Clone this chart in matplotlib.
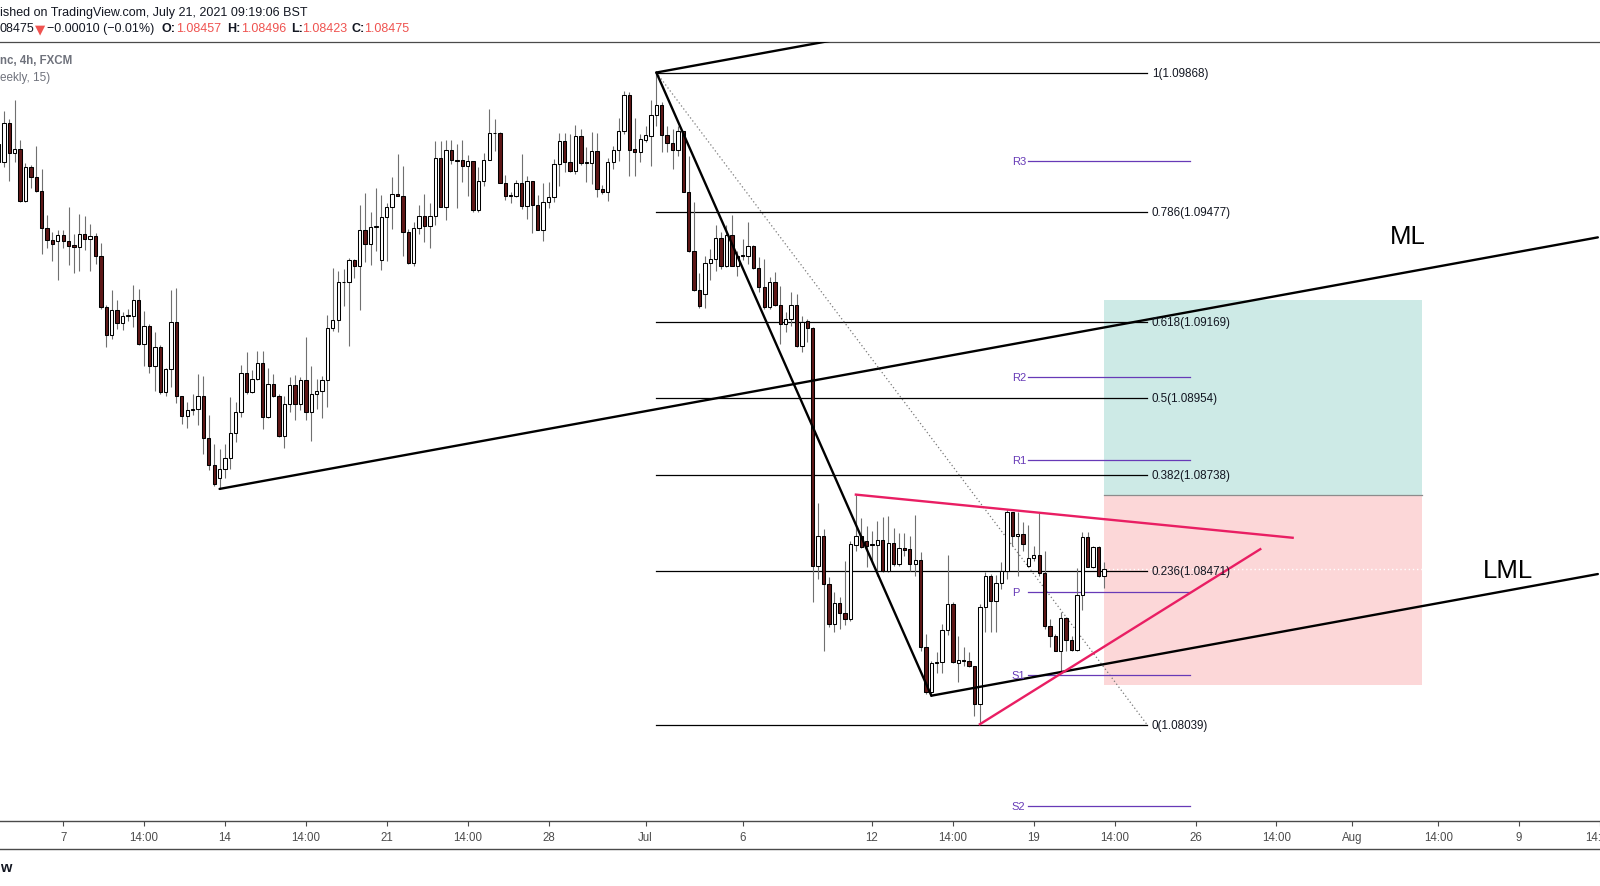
import numpy as np
import matplotlib.pyplot as plt
from matplotlib.lines import Line2D
from matplotlib.patches import Rectangle

# EURCHF-like 4h candles; bar 0 = first bar of Mon 7 Jun
first_bar = -12

opens = [
    1.09668, 1.09616, 1.09726, 1.09641, 1.09653, 1.09509, 1.09602, 1.09574, 1.09535, 1.09431,
    1.09398, 1.09395, 1.09413, 1.09395, 1.09383, 1.09378, 1.09415, 1.09400, 1.09409, 1.09353,
    1.09210, 1.09133, 1.09202, 1.09165, 1.09185, 1.09186, 1.09230, 1.09107, 1.09156, 1.09046,
    1.09098, 1.08973, 1.09037, 1.09168, 1.08960, 1.08904, 1.08922, 1.08923, 1.08960, 1.08842,
    1.08767, 1.08732, 1.08756, 1.08786, 1.08858, 1.08915, 1.09024, 1.08971, 1.09008, 1.09052,
    1.08901, 1.08994, 1.08961, 1.08848, 1.08938, 1.08992, 1.08938, 1.09005, 1.08915, 1.08965,
    1.08974, 1.09005, 1.09151, 1.09173, 1.09279, 1.09279, 1.09341, 1.09325, 1.09425, 1.09386,
    1.09435, 1.09343, 1.09462, 1.09490, 1.09526, 1.09521, 1.09420, 1.09333, 1.09431, 1.09465,
    1.09437, 1.09465, 1.09627, 1.09490, 1.09650, 1.09623, 1.09622, 1.09605, 1.09619, 1.09481,
    1.09563, 1.09622, 1.09697, 1.09698, 1.09557, 1.09522, 1.09523, 1.09557, 1.09493, 1.09563,
    1.09497, 1.09427, 1.09504, 1.09518, 1.09612, 1.09675, 1.09616, 1.09593, 1.09689, 1.09614,
    1.09615, 1.09647, 1.09541, 1.09532, 1.09616, 1.09651, 1.09703, 1.09805, 1.09654, 1.09644,
    1.09680, 1.09691, 1.09749, 1.09777, 1.09694, 1.09670, 1.09652, 1.09703, 1.09534, 1.09367,
    1.09259, 1.09247, 1.09333, 1.09344, 1.09403, 1.09326, 1.09412, 1.09326, 1.09355, 1.09353,
    1.09381, 1.09320, 1.09266, 1.09210, 1.09280, 1.09217, 1.09163, 1.09177, 1.09217, 1.09102,
    1.09170, 1.09150, 1.08485, 1.08567, 1.08433, 1.08322, 1.08381, 1.08352, 1.08334, 1.08544,
    1.08567, 1.08553, 1.08545, 1.08544, 1.08557, 1.08471, 1.08548, 1.08488, 1.08535, 1.08532,
    1.08488, 1.08501, 1.08256, 1.08129, 1.08213, 1.08214, 1.08304, 1.08376, 1.08211, 1.08219,
    1.08216, 1.08202, 1.08097, 1.08368, 1.08457, 1.08387, 1.08435, 1.08471, 1.08634, 1.08567,
    1.08573, 1.08485, 1.08505, 1.08514, 1.08463, 1.08315, 1.08287, 1.08246, 1.08337, 1.08277,
    1.08249, 1.08402, 1.08564, 1.08482, 1.08536, 1.08457,
]
closes = [
    1.09616, 1.09726, 1.09641, 1.09653, 1.09509, 1.09602, 1.09574, 1.09535, 1.09431, 1.09398,
    1.09386, 1.09413, 1.09395, 1.09381, 1.09378, 1.09415, 1.09400, 1.09409, 1.09353, 1.09210,
    1.09133, 1.09202, 1.09165, 1.09184, 1.09187, 1.09230, 1.09107, 1.09156, 1.09046, 1.09098,
    1.08973, 1.09037, 1.09168, 1.08960, 1.08904, 1.08922, 1.08923, 1.08960, 1.08842, 1.08766,
    1.08713, 1.08756, 1.08786, 1.08858, 1.08915, 1.09024, 1.08971, 1.09008, 1.09052, 1.08901,
    1.08994, 1.08962, 1.08848, 1.08938, 1.08992, 1.08938, 1.09005, 1.08915, 1.08965, 1.08974,
    1.09005, 1.09151, 1.09173, 1.09279, 1.09281, 1.09341, 1.09325, 1.09425, 1.09386, 1.09434,
    1.09437, 1.09462, 1.09490, 1.09526, 1.09521, 1.09420, 1.09333, 1.09431, 1.09465, 1.09437,
    1.09465, 1.09627, 1.09490, 1.09650, 1.09622, 1.09621, 1.09605, 1.09619, 1.09481, 1.09563,
    1.09622, 1.09698, 1.09699, 1.09557, 1.09521, 1.09524, 1.09557, 1.09493, 1.09563, 1.09497,
    1.09427, 1.09504, 1.09518, 1.09612, 1.09675, 1.09616, 1.09593, 1.09689, 1.09613, 1.09616,
    1.09647, 1.09540, 1.09532, 1.09616, 1.09651, 1.09703, 1.09805, 1.09652, 1.09644, 1.09682,
    1.09693, 1.09749, 1.09777, 1.09694, 1.09670, 1.09652, 1.09703, 1.09534, 1.09367, 1.09259,
    1.09214, 1.09333, 1.09344, 1.09403, 1.09326, 1.09411, 1.09326, 1.09354, 1.09352, 1.09381,
    1.09320, 1.09266, 1.09210, 1.09280, 1.09217, 1.09163, 1.09177, 1.09217, 1.09102, 1.09167,
    1.09150, 1.08485, 1.08567, 1.08433, 1.08322, 1.08381, 1.08352, 1.08334, 1.08546, 1.08567,
    1.08537, 1.08541, 1.08543, 1.08557, 1.08471, 1.08548, 1.08488, 1.08535, 1.08530, 1.08488,
    1.08501, 1.08256, 1.08129, 1.08213, 1.08215, 1.08304, 1.08376, 1.08214, 1.08220, 1.08216,
    1.08202, 1.08097, 1.08368, 1.08457, 1.08387, 1.08435, 1.08471, 1.08634, 1.08567, 1.08573,
    1.08545, 1.08505, 1.08514, 1.08463, 1.08315, 1.08287, 1.08246, 1.08337, 1.08277, 1.08249,
    1.08402, 1.08564, 1.08482, 1.08536, 1.08457, 1.08475,
]
highs = [
    1.09682, 1.09759, 1.09738, 1.09791, 1.09679, 1.09614, 1.09609, 1.09663, 1.09598, 1.09469,
    1.09420, 1.09425, 1.09425, 1.09492, 1.09415, 1.09471, 1.09466, 1.09443, 1.09418, 1.09391,
    1.09216, 1.09258, 1.09230, 1.09195, 1.09205, 1.09272, 1.09261, 1.09200, 1.09163, 1.09140,
    1.09104, 1.09039, 1.09259, 1.09264, 1.08962, 1.08943, 1.08965, 1.09021, 1.09018, 1.08906,
    1.08826, 1.08812, 1.08826, 1.08957, 1.08945, 1.09048, 1.09083, 1.09034, 1.09088, 1.09088,
    1.09040, 1.09022, 1.08966, 1.08962, 1.09013, 1.09020, 1.09013, 1.09127, 1.09046, 1.09008,
    1.09018, 1.09188, 1.09320, 1.09310, 1.09317, 1.09348, 1.09345, 1.09495, 1.09530, 1.09476,
    1.09544, 1.09525, 1.09502, 1.09575, 1.09639, 1.09605, 1.09429, 1.09448, 1.09496, 1.09527,
    1.09502, 1.09677, 1.09677, 1.09679, 1.09679, 1.09668, 1.09679, 1.09637, 1.09621, 1.09602,
    1.09642, 1.09766, 1.09738, 1.09700, 1.09581, 1.09532, 1.09567, 1.09639, 1.09579, 1.09565,
    1.09525, 1.09558, 1.09560, 1.09626, 1.09698, 1.09698, 1.09696, 1.09721, 1.09710, 1.09658,
    1.09700, 1.09698, 1.09552, 1.09628, 1.09663, 1.09741, 1.09815, 1.09813, 1.09741, 1.09696,
    1.09719, 1.09792, 1.09868, 1.09786, 1.09719, 1.09710, 1.09719, 1.09703, 1.09635, 1.09506,
    1.09306, 1.09354, 1.09373, 1.09439, 1.09420, 1.09439, 1.09467, 1.09368, 1.09401, 1.09450,
    1.09383, 1.09350, 1.09345, 1.09294, 1.09308, 1.09270, 1.09195, 1.09252, 1.09247, 1.09186,
    1.09177, 1.09153, 1.08661, 1.08588, 1.08453, 1.08412, 1.08396, 1.08499, 1.08555, 1.08684,
    1.08619, 1.08597, 1.08581, 1.08610, 1.08621, 1.08624, 1.08590, 1.08576, 1.08576, 1.08567,
    1.08627, 1.08522, 1.08293, 1.08218, 1.08242, 1.08321, 1.08515, 1.08384, 1.08288, 1.08256,
    1.08242, 1.08204, 1.08377, 1.08468, 1.08461, 1.08459, 1.08494, 1.08645, 1.08636, 1.08634,
    1.08606, 1.08599, 1.08541, 1.08632, 1.08527, 1.08335, 1.08293, 1.08354, 1.08340, 1.08288,
    1.08477, 1.08578, 1.08580, 1.08541, 1.08541, 1.08496,
]
lows = [
    1.09607, 1.09604, 1.09565, 1.09616, 1.09506, 1.09506, 1.09543, 1.09532, 1.09360, 1.09377,
    1.09338, 1.09287, 1.09377, 1.09329, 1.09305, 1.09312, 1.09371, 1.09312, 1.09332, 1.09205,
    1.09099, 1.09121, 1.09149, 1.09147, 1.09172, 1.09155, 1.09104, 1.09046, 1.09026, 1.08976,
    1.08965, 1.08960, 1.08985, 1.08941, 1.08882, 1.08870, 1.08906, 1.08878, 1.08797, 1.08754,
    1.08707, 1.08700, 1.08730, 1.08756, 1.08832, 1.08901, 1.08966, 1.08969, 1.09006, 1.08868,
    1.08898, 1.08957, 1.08845, 1.08814, 1.08917, 1.08894, 1.08920, 1.08892, 1.08835, 1.08924,
    1.08899, 1.08929, 1.09142, 1.09139, 1.09214, 1.09100, 1.09291, 1.09203, 1.09336, 1.09329,
    1.09367, 1.09315, 1.09338, 1.09429, 1.09521, 1.09354, 1.09330, 1.09326, 1.09415, 1.09392,
    1.09377, 1.09439, 1.09490, 1.09455, 1.09612, 1.09487, 1.09562, 1.09523, 1.09476, 1.09476,
    1.09551, 1.09622, 1.09649, 1.09557, 1.09511, 1.09502, 1.09520, 1.09485, 1.09457, 1.09418,
    1.09425, 1.09396, 1.09487, 1.09506, 1.09549, 1.09590, 1.09590, 1.09582, 1.09609, 1.09560,
    1.09556, 1.09518, 1.09527, 1.09509, 1.09598, 1.09621, 1.09696, 1.09579, 1.09579, 1.09616,
    1.09672, 1.09605, 1.09719, 1.09646, 1.09646, 1.09596, 1.09635, 1.09532, 1.09364, 1.09256,
    1.09207, 1.09208, 1.09287, 1.09312, 1.09317, 1.09322, 1.09325, 1.09298, 1.09341, 1.09331,
    1.09317, 1.09252, 1.09205, 1.09205, 1.09214, 1.09107, 1.09141, 1.09158, 1.09097, 1.09083,
    1.09111, 1.08382, 1.08448, 1.08244, 1.08312, 1.08298, 1.08307, 1.08319, 1.08330, 1.08525,
    1.08535, 1.08481, 1.08490, 1.08456, 1.08467, 1.08468, 1.08485, 1.08485, 1.08513, 1.08471,
    1.08455, 1.08244, 1.08125, 1.08120, 1.08185, 1.08185, 1.08290, 1.08212, 1.08157, 1.08204,
    1.08200, 1.08064, 1.08040, 1.08298, 1.08298, 1.08298, 1.08419, 1.08447, 1.08541, 1.08455,
    1.08527, 1.08483, 1.08499, 1.08457, 1.08307, 1.08256, 1.08246, 1.08185, 1.08246, 1.08246,
    1.08246, 1.08361, 1.08480, 1.08477, 1.08452, 1.08423,
]

tick_bars = [0, 15, 30, 45, 60, 75, 90, 108, 126, 150, 165, 180, 195, 210, 225, 239, 255, 270, 285]
tick_labels = ['7', '14:00', '14', '14:00', '21', '14:00', '28', 'Jul', '6', '12', '14:00',
               '19', '14:00', '26', '14:00', 'Aug', '14:00', '9', '14:00']

# fib retracement
fib_x = [110, 201]
fib_ratios = ['1', '0.786', '0.618', '0.5', '0.382', '0.236', '0']
fib_prices = [1.09868, 1.09477, 1.09169, 1.08954, 1.08738, 1.08471, 1.08039]

# pitchfork handle / high / low
pf_x = [29, 110, 161]
pf_y = [1.08700, 1.09868, 1.08120]

# weekly pivots
pivot_names = ['R3', 'R2', 'R1', 'P', 'S1', 'S2']
pivot_vals = [1.09619, 1.09015, 1.08781, 1.08411, 1.08177, 1.07810]
pivot_x = [179, 209]

# long position tool
pos_x = [193, 252]
pos_target, pos_entry, pos_stop = 1.09230, 1.08683, 1.08151

# pink triangle
tri_up_x, tri_up_y = [147, 228], [1.08684, 1.08563]
tri_lo_x, tri_lo_y = [170, 222], [1.08040, 1.08531]

W, H = 1600, 887
fig = plt.figure(figsize=(16, 8.87), dpi=100)
ax = fig.add_axes([0, 1 - 822 / H, 1, (822 - 43) / H])
x_lo, x_hi = -11.72, 284.6
ax.set_xlim(x_lo, x_hi)
ax.set_ylim(1.077685, 1.099536)

for s in ['left', 'right']:
    ax.spines[s].set_visible(False)
ax.spines['top'].set_color('#4a4a4a')
ax.spines['top'].set_linewidth(0.9)
ax.spines['bottom'].set_color('#4a4a4a')
ax.spines['bottom'].set_linewidth(1.0)
ax.set_yticks([])
ax.set_xticks(tick_bars)
ax.set_xticklabels(tick_labels, fontsize=8.3, color='#4c4c4c', family='Liberation Sans')
ax.tick_params(axis='x', length=3.5, width=0.8, color='#4a4a4a', pad=3.5)

# position boxes
ax.add_patch(Rectangle((pos_x[0], pos_entry), pos_x[1] - pos_x[0], pos_target - pos_entry,
                       facecolor='#cdeae6', edgecolor='none', zorder=0.5))
ax.add_patch(Rectangle((pos_x[0], pos_stop), pos_x[1] - pos_x[0], pos_entry - pos_stop,
                       facecolor='#fcd7d8', edgecolor='none', zorder=0.5))
ax.plot(pos_x, [pos_entry, pos_entry], color='#8c8c8c', lw=0.9, zorder=0.6)

# last price dotted line
ax.plot([193, x_hi], [closes[-1], closes[-1]], color='white', lw=1.0, ls=(0, (1, 2)), zorder=0.7)

# fib levels
for r, p in zip(fib_ratios, fib_prices):
    ax.plot(fib_x, [p, p], color='black', lw=0.9, zorder=2)
    ax.text(fib_x[1] + 0.9, p, f'{r}({p:.5f})', fontsize=8.4, family='Liberation Sans',
            va='center', ha='left', color='#131722', zorder=7)
ax.plot(fib_x, [fib_prices[0], fib_prices[-1]], color='#7a7a7a', lw=0.9, ls=(0, (1, 2)), zorder=2)

# pivots
for n, v in zip(pivot_names, pivot_vals):
    ax.plot(pivot_x, [v, v], color='#673ab7', lw=0.9, zorder=2)
    ax.text(175.9, v, n, fontsize=8, family='Liberation Sans',
            color='#673ab7', va='center', ha='left', zorder=7)

# candles
bars = np.arange(first_bar, first_bar + len(opens))
o, c = np.array(opens), np.array(closes)
hi, lo = np.array(highs), np.array(lows)
up = c >= o
ax.vlines(bars, lo, hi, color='#707070', lw=0.8, zorder=3)
ax.bar(bars[up], c[up] - o[up], bottom=o[up], width=0.62, color='white',
       edgecolor='black', lw=0.75, zorder=4)
ax.bar(bars[~up], o[~up] - c[~up], bottom=c[~up], width=0.62, color='#5e1717',
       edgecolor='black', lw=0.75, zorder=4)

# pitchfork
mid_x = (pf_x[1] + pf_x[2]) / 2
mid_y = (pf_y[1] + pf_y[2]) / 2
slope = (mid_y - pf_y[0]) / (mid_x - pf_x[0])
pf_kw = dict(color='black', lw=1.7, zorder=5, solid_capstyle='round')
ax.plot([pf_x[0], x_hi], [pf_y[0], pf_y[0] + slope * (x_hi - pf_x[0])], **pf_kw)
ax.plot([pf_x[1], x_hi], [pf_y[1], pf_y[1] + slope * (x_hi - pf_x[1])], **pf_kw)
ax.plot([pf_x[2], x_hi], [pf_y[2], pf_y[2] + slope * (x_hi - pf_x[2])], **pf_kw)
ax.plot(pf_x[1:], pf_y[1:], **pf_kw)
ax.text(246.0, 1.09409, 'ML', fontsize=18.5, family='Liberation Sans', va='center', ha='left',
        color='black', zorder=7)
ax.text(263.3, 1.08473, 'LML', fontsize=18.5, family='Liberation Sans', va='center', ha='left',
        color='black', zorder=7)

# pink triangle
ax.plot(tri_up_x, tri_up_y, color='#e91e63', lw=1.7, zorder=6)
ax.plot(tri_lo_x, tri_lo_y, color='#e91e63', lw=1.7, zorder=6)

# header / footer
def ftext(px, py, s, **kw):
    kw.setdefault('family', ['Liberation Sans', 'DejaVu Sans'])
    kw.setdefault('fontsize', 9)
    kw.setdefault('color', '#131722')
    fig.text(px / W, 1 - py / H, s, va='center', ha='left', **kw)

red = '#ef5350'
ftext(0, 12.7, 'ished on TradingView.com, July 21, 2021 09:19:06 BST')
ftext(0, 29.3, '08475')
ftext(35, 29.8, '\u25bc', color=red, fontsize=9.5, family=['DejaVu Sans'])
ftext(47, 29.3, '\u22120.00010 (\u22120.01%)')
for lx, lab, vx, val in [(162, 'O:', 176, '1.08457'), (227, 'H:', 241, '1.08496'),
                         (291, 'L:', 302, '1.08423'), (352, 'C:', 364, '1.08475')]:
    ftext(lx, 29.3, lab, weight='bold')
    ftext(vx, 29.3, val, color=red)
ftext(0, 60.5, 'nc, 4h, FXCM', color='#6f727c', weight='bold', fontsize=8.3)
ftext(0, 78, 'eekly, 15)', color='#6f727c', fontsize=8.5)
fig.add_artist(Line2D([0, 1], [1 - 850 / H] * 2, color='#4a4a4a', lw=1.0))
ftext(0, 868, 'w', weight='bold', fontsize=10.5)

fig.savefig('out.png', dpi=100)
